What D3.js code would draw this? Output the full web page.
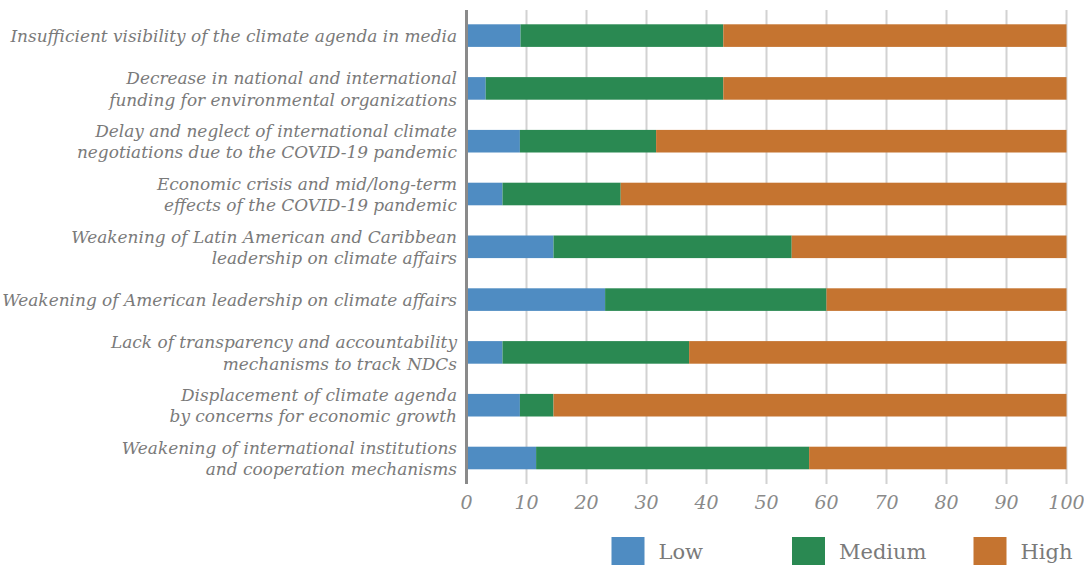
<!DOCTYPE html>
<html>
<head>
<meta charset="utf-8">
<script src="https://cdn.jsdelivr.net/npm/d3@7"></script>
<style>
  html, body { margin: 0; padding: 0; background: #fff; }
  svg { display: block; }
</style>
</head>
<body>
<svg id="chart" width="1084" height="565"></svg>
<script>
const categories = [
  ["Insufficient visibility of the climate agenda in media"],
  ["Decrease in national and international", "funding for environmental organizations"],
  ["Delay and neglect of international climate", "negotiations due to the COVID-19 pandemic"],
  ["Economic crisis and mid/long-term", "effects of the COVID-19 pandemic"],
  ["Weakening of Latin American and Caribbean", "leadership on climate affairs"],
  ["Weakening of American leadership on climate affairs"],
  ["Lack of transparency and accountability", "mechanisms to track NDCs"],
  ["Displacement of climate agenda", "by concerns for economic growth"],
  ["Weakening of international institutions", "and cooperation mechanisms"]
];
const lowValues    = [9.0, 3.2, 8.9, 6.0, 14.5, 23.1, 6.0, 8.9, 11.6];
const mediumValues = [33.8, 39.6, 22.7, 19.7, 39.7, 36.9, 31.1, 5.6, 45.5];
const highValues   = [57.2, 57.2, 68.4, 74.3, 45.8, 40.0, 62.9, 85.5, 42.9];
const seriesNames  = ["Low", "Medium", "High"];
const seriesColors = ["#4f8cc2", "#2a8952", "#c57430"];
const tickValues   = [0, 10, 20, 30, 40, 50, 60, 70, 80, 90, 100];

const svg = d3.select("#chart");
const labelFont = "'DejaVu Serif', serif";

const ids = categories.map((c, i) => i);
const x = d3.scaleLinear().domain([0, 100]).range([466.5, 1066.5]);
const y = d3.scaleBand().domain(ids).range([9.2, 484.4]).paddingInner(0.572).paddingOuter(0.286);

const plotTop = 10, plotBottom = 484;

// gridlines
svg.append("g").selectAll("line").data(tickValues.filter(d => d > 0)).join("line")
  .attr("x1", d => x(d)).attr("x2", d => x(d))
  .attr("y1", plotTop).attr("y2", plotBottom)
  .attr("stroke", "#d2d2d2").attr("stroke-width", 2);

// stacked data
const rows = ids.map(i => ({ i, Low: lowValues[i], Medium: mediumValues[i], High: highValues[i] }));
const stack = d3.stack().keys(seriesNames)(rows);
const color = d3.scaleOrdinal().domain(seriesNames).range(seriesColors);

svg.append("g").selectAll("g").data(stack).join("g")
  .attr("fill", d => color(d.key))
  .selectAll("rect").data(d => d).join("rect")
  .attr("x", d => x(d[0]))
  .attr("width", d => x(d[1]) - x(d[0]))
  .attr("y", d => y(d.data.i))
  .attr("height", y.bandwidth());

// axis line at 0
svg.append("line")
  .attr("x1", x(0)).attr("x2", x(0))
  .attr("y1", plotTop).attr("y2", plotBottom)
  .attr("stroke", "#8a8a8a").attr("stroke-width", 3);

// tick labels
svg.append("g").selectAll("text").data(tickValues).join("text")
  .attr("x", d => x(d)).attr("y", 509)
  .attr("text-anchor", "middle")
  .attr("font-family", labelFont).attr("font-style", "italic")
  .attr("font-size", 19).attr("fill", "#8a8a8a")
  .text(d => d);

// category labels (font size fitted to the reference width of the first label)
const probe = svg.append("text").attr("font-family", labelFont).attr("font-style", "italic")
  .attr("font-size", 20).text(categories[0][0]);
const fitted = 20 * 447 / probe.node().getComputedTextLength();
probe.remove();

const lineGap = 21.5;
const lab = svg.append("g").selectAll("text").data(categories).join("text")
  .attr("text-anchor", "end")
  .attr("font-family", labelFont).attr("font-style", "italic")
  .attr("font-size", fitted).attr("fill", "#7a7a7a");
lab.each(function(lines, i) {
  const cy = y(i) + y.bandwidth() / 2;
  const base = cy + 6.5 - (lines.length - 1) * lineGap / 2;
  d3.select(this).selectAll("tspan").data(lines).join("tspan")
    .attr("x", 457).attr("y", (d, k) => base + k * lineGap)
    .text(d => d);
});

// legend
const legendX = [611.5, 792, 973.5];
const legend = svg.append("g").selectAll("g").data(seriesNames).join("g")
  .attr("transform", (d, i) => `translate(${legendX[i]},537)`);
legend.append("rect").attr("width", 33).attr("height", 33).attr("fill", d => color(d));
legend.append("text").attr("x", 47).attr("y", 22)
  .attr("font-family", labelFont).attr("font-size", 21).attr("fill", "#7a7a7a")
  .text(d => d);
</script>
</body>
</html>
